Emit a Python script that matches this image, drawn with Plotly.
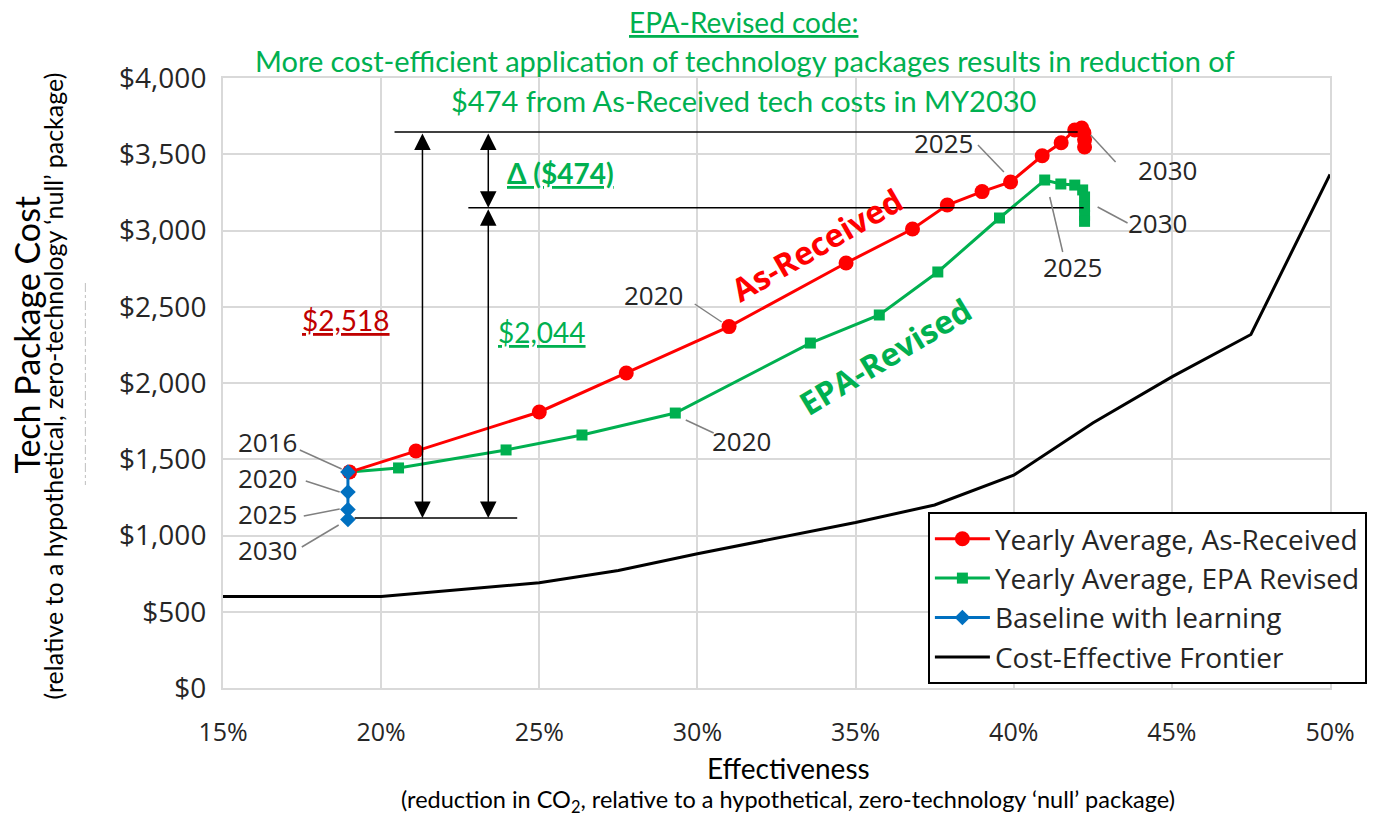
import plotly.graph_objects as go

# ---------------- data ----------------
# Yearly average, As-Received (effectiveness %, cost $)
ar_eff = [19.0, 21.1, 25.0, 27.75, 31.0, 34.7, 36.8, 37.9, 39.0, 39.9, 40.9, 41.5, 41.93, 42.15, 42.22, 42.24, 42.24]
ar_cost = [1416, 1554, 1810, 2066, 2370, 2787, 3010, 3167, 3255, 3318, 3490, 3575, 3659, 3672, 3640, 3595, 3548]

# Yearly average, EPA Revised
epa_eff = [19.0, 20.55, 23.95, 26.35, 29.3, 33.57, 35.75, 37.6, 39.55, 40.98, 41.49, 41.93, 42.18, 42.24, 42.24, 42.24, 42.24]
epa_cost = [1416, 1443, 1561, 1659, 1803, 2262, 2446, 2728, 3082, 3331, 3305, 3298, 3266, 3220, 3154, 3100, 3060]

# Baseline with learning (2016, 2020, 2025, 2030)
base_eff = [18.95, 18.95, 18.95, 18.95]
base_cost = [1416, 1285, 1170, 1105]

# Cost-effective frontier
front_eff = [15, 20, 25, 27.5, 30, 35, 37.5, 40, 42.5, 45, 47.5, 50]
front_cost = [600, 600, 690, 770, 880, 1085, 1200, 1395, 1738, 2040, 2318, 3368]

# MY2030 reference levels used for the dimension lines
cost_top = 3646      # As-Received 2030
cost_mid = 3150      # EPA Revised 2030
cost_base = 1115     # Baseline 2030

x_ticks = [15, 20, 25, 30, 35, 40, 45, 50]
x_tick_text = ["15%", "20%", "25%", "30%", "35%", "40%", "45%", "50%"]
y_ticks = [0, 500, 1000, 1500, 2000, 2500, 3000, 3500, 4000]
y_tick_text = ["$0", "$500", "$1,000", "$1,500", "$2,000", "$2,500", "$3,000", "$3,500", "$4,000"]

RED = "#FF0000"
GREEN = "#00B050"
BLUE = "#0070C0"
DARKRED = "#C00000"
TXT = "#262626"
GRID = "#D9D9D9"
PTR = "#808080"

# ---------------- layout geometry (pixels of the 1379x817 canvas) ----------------
W, H = 1379, 817
L, R, T, B = 223, 1333, 78, 688


def dx(px):
    return 15 + (px - L) / (R - L) * 35


def dy(py):
    return (B - py) / (B - T) * 4000


def pxp(px):
    return (px - L) / (R - L)


def pyp(py):
    return (B - py) / (B - T)


fig = go.Figure()

fig.add_trace(go.Scatter(
    x=front_eff, y=front_cost, mode="lines", name="Cost-Effective Frontier",
    line=dict(color="black", width=3), legendrank=4))
fig.add_trace(go.Scatter(
    x=epa_eff, y=epa_cost, mode="lines+markers", name="Yearly Average, EPA Revised",
    line=dict(color=GREEN, width=3), marker=dict(symbol="square", size=11, color=GREEN),
    legendrank=2))
fig.add_trace(go.Scatter(
    x=ar_eff, y=ar_cost, mode="lines+markers", name="Yearly Average, As-Received",
    line=dict(color=RED, width=3), marker=dict(symbol="circle", size=15, color=RED),
    legendrank=1))
fig.add_trace(go.Scatter(
    x=base_eff, y=base_cost, mode="lines+markers", name="Baseline with learning",
    line=dict(color=BLUE, width=3), marker=dict(symbol="diamond", size=12, color=BLUE),
    legendrank=3))

shapes = []
annotations = []


def note(text, x, y, size, color, family="Open Sans", ref="data", angle=0):
    if ref == "data":
        xx, yy, xr, yr = dx(x), dy(y), "x", "y"
    else:
        xx, yy, xr, yr = pxp(x), pyp(y), "paper", "paper"
    annotations.append(dict(x=xx, y=yy, xref=xr, yref=yr, text=text, showarrow=False,
                            xanchor="center", yanchor="middle", textangle=angle,
                            font=dict(family=family, size=size, color=color)))


# horizontal reference lines
for x0p, x1p, yv in [(395, 1080, cost_top), (469, 1086, cost_mid), (355, 518, cost_base)]:
    shapes.append(dict(type="line", xref="x", yref="y", x0=dx(x0p), x1=dx(x1p), y0=yv, y1=yv,
                       line=dict(color="black", width=1.5)))

# double-headed dimension arrows
for xp, ytop, ybot in [(423, cost_top, cost_base), (489, cost_top, cost_mid), (489, cost_mid, cost_base)]:
    annotations.append(dict(
        x=dx(xp), y=ybot, ax=dx(xp), ay=ytop, xref="x", yref="y", axref="x", ayref="y",
        text="", showarrow=True, arrowhead=2, arrowside="end+start", arrowsize=2.2,
        arrowwidth=1.5, arrowcolor="black", standoff=0, startstandoff=0))

# year pointer lines (text position -> point)
pointers = [
    ((300, 450), (342, 469)),  # 2016
    ((306, 481), (340, 492)),  # 2020 baseline
    ((304, 516), (340, 509)),  # 2025 baseline
    ((302, 547), (339, 525)),  # 2030 baseline
    ((696, 304), (723, 322)),  # 2020 As-Received
    ((687, 420), (715, 433)),  # 2020 EPA
    ((980, 145), (1006, 172)),  # 2025 As-Received
    ((1093, 135), (1118, 162)),  # 2030 As-Received
    ((1100, 207), (1130, 223)),  # 2030 EPA
    ((1052, 197), (1065, 252)),  # 2025 EPA
]
for (x0p, y0p), (x1p, y1p) in pointers:
    shapes.append(dict(type="line", xref="x", yref="y", x0=dx(x0p), y0=dy(y0p), x1=dx(x1p), y1=dy(y1p),
                       line=dict(color=PTR, width=1.5)))

year_labels = [
    ("2016", 268, 442), ("2020", 268, 478), ("2025", 268, 514), ("2030", 268, 550),
    ("2020", 655, 295), ("2020", 743, 441), ("2025", 945, 143), ("2030", 1170, 170),
    ("2030", 1160, 223), ("2025", 1075, 267),
]
for txt, xp, yp in year_labels:
    note(txt, xp, yp, 26, TXT)

# series labels
note("<b>As-Received</b>", 818, 244, 32, RED, angle=-30)
note("<b>EPA-Revised</b>", 886, 356, 32, GREEN, angle=-31)

# dimension labels
note("<u>$2,518</u>", 346, 320, 28, DARKRED, family="Lato")
note("<u>$2,044</u>", 543, 332, 28, GREEN, family="Lato")
note("<u><b>Δ ($474)</b></u>", 561, 173, 28, GREEN, family="Lato")

# headline
note("<u>EPA-Revised code:</u>", 745, 22, 28, GREEN, family="Lato", ref="paper")
note("More cost-efficient application of technology packages results in reduction of",
     746, 61, 29, GREEN, family="Lato", ref="paper")
note("$474 from As-Received tech costs in MY2030", 745, 101, 29, GREEN, family="Lato", ref="paper")

# axis titles
note("Effectiveness", 790, 768, 28, "black", family="Lato", ref="paper")
note("(reduction in CO<sub>2</sub>, relative to a hypothetical, zero-technology ‘null’ package)",
     790, 801, 23.5, "black", family="Lato", ref="paper")
note("Tech Package Cost", 25, 335, 34, "black", family="Lato", ref="paper", angle=-90)
note("(relative to a hypothetical, zero-technology ‘null’ package)", 53, 386, 25, "black",
     family="Lato", ref="paper", angle=-90)

# faint dashed artifact in the y-title area
shapes.append(dict(type="line", xref="paper", yref="paper", x0=pxp(85), x1=pxp(85), y0=pyp(283), y1=pyp(485),
                   line=dict(color="#BFBFBF", width=1, dash="dashdot")))

fig.update_layout(
    width=W, height=H,
    margin=dict(l=L, r=W - R, t=T, b=H - B),
    paper_bgcolor="white", plot_bgcolor="white",
    showlegend=True,
    legend=dict(x=pxp(1370), y=pyp(684), xanchor="right", yanchor="bottom",
                bgcolor="white", bordercolor="black", borderwidth=2,
                font=dict(family="Open Sans", size=28, color=TXT),
                itemwidth=55, traceorder="normal"),
    shapes=shapes, annotations=annotations,
    xaxis=dict(range=[15, 50], tickmode="array", tickvals=x_ticks, ticktext=x_tick_text,
               showgrid=True, gridcolor=GRID,
               gridwidth=2, showline=True, linecolor=GRID, linewidth=2, mirror=True, zeroline=False,
               ticks="", ticklabelstandoff=21, tickfont=dict(family="Open Sans", size=25, color=TXT)),
    yaxis=dict(range=[0, 4000], tickmode="array", tickvals=y_ticks, ticktext=y_tick_text,
               showgrid=True, gridcolor=GRID, gridwidth=2, showline=True, linecolor=GRID, linewidth=2,
               mirror=True, zeroline=False, ticks="", ticklabelstandoff=9,
               tickfont=dict(family="Open Sans", size=28, color=TXT)),
)

fig.write_html("out.html", config={"displayModeBar": False},
               post_script="document.body.style.margin='0';")
